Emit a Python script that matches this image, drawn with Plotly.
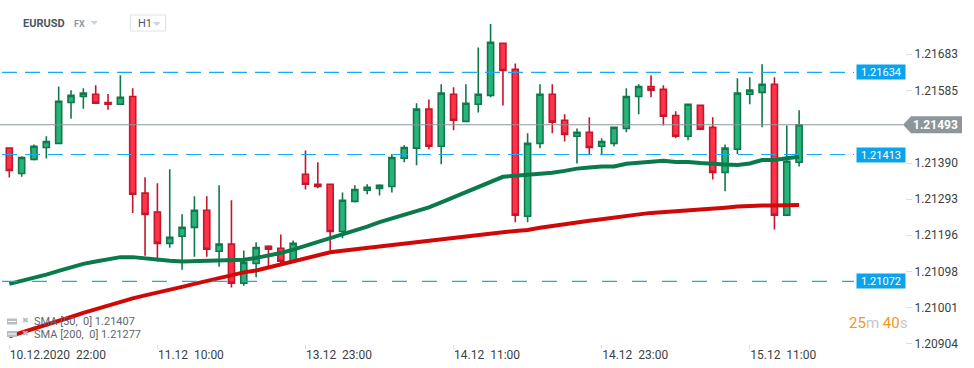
import plotly.graph_objects as go

# ---------------- data ----------------
opens = [1.21430, 1.21362, 1.21400, 1.21432, 1.21443, 1.21553, 1.21569, 1.21575, 1.21553, 1.21548,
         1.21569, 1.21309, 1.21258, 1.21174, 1.21193, 1.21217, 1.21263, 1.21153, 1.21172, 1.21067,
         1.21120, 1.21166, 1.21161, 1.21126, 1.21360, 1.21333, 1.21333, 1.21206, 1.21287, 1.21317,
         1.21322, 1.21327, 1.21403, 1.21430, 1.21535, 1.21435, 1.21575, 1.21502, 1.21548, 1.21572,
         1.21712, 1.21642, 1.21247, 1.21443, 1.21575, 1.21505, 1.21462, 1.21473, 1.21435, 1.21443,
         1.21483, 1.21569, 1.21596, 1.21588, 1.21518, 1.21462, 1.21545, 1.21486, 1.21365, 1.21427,
         1.21575, 1.21580, 1.21602, 1.21250, 1.21392]
highs = [1.21432, 1.21408, 1.21440, 1.21462, 1.21596, 1.21586, 1.21591, 1.21599, 1.21576, 1.21626,
         1.21591, 1.21352, 1.21336, 1.21373, 1.21252, 1.21301, 1.21301, 1.21330, 1.21290, 1.21155,
         1.21177, 1.21169, 1.21198, 1.21182, 1.21424, 1.21392, 1.21334, 1.21311, 1.21330, 1.21333,
         1.21333, 1.21414, 1.21438, 1.21551, 1.21561, 1.21602, 1.21594, 1.21602, 1.21701, 1.21764,
         1.21713, 1.21658, 1.21470, 1.21602, 1.21602, 1.21521, 1.21483, 1.21513, 1.21457, 1.21487,
         1.21591, 1.21602, 1.21626, 1.21599, 1.21529, 1.21549, 1.21546, 1.21513, 1.21440, 1.21618,
         1.21621, 1.21656, 1.21621, 1.21491, 1.21532]
lows = [1.21351, 1.21353, 1.21397, 1.21402, 1.21441, 1.21509, 1.21536, 1.21549, 1.21533, 1.21546,
        1.21256, 1.21141, 1.21125, 1.21162, 1.21103, 1.21138, 1.21138, 1.21111, 1.21055, 1.21060,
        1.21083, 1.21111, 1.21120, 1.21124, 1.21319, 1.21322, 1.21155, 1.21188, 1.21284, 1.21306,
        1.21303, 1.21311, 1.21392, 1.21384, 1.21427, 1.21387, 1.21478, 1.21500, 1.21526, 1.21567,
        1.21545, 1.21231, 1.21231, 1.21430, 1.21470, 1.21448, 1.21389, 1.21414, 1.21411, 1.21435,
        1.21473, 1.21521, 1.21567, 1.21491, 1.21457, 1.21451, 1.21478, 1.21346, 1.21314, 1.21414,
        1.21548, 1.21486, 1.21211, 1.21248, 1.21381]
closes = [1.21370, 1.21405, 1.21435, 1.21448, 1.21556, 1.21572, 1.21578, 1.21551, 1.21548, 1.21567,
          1.21306, 1.21252, 1.21174, 1.21190, 1.21217, 1.21263, 1.21158, 1.21172, 1.21067, 1.21123,
          1.21163, 1.21158, 1.21126, 1.21174, 1.21333, 1.21327, 1.21206, 1.21290, 1.21319, 1.21325,
          1.21330, 1.21405, 1.21432, 1.21535, 1.21435, 1.21578, 1.21505, 1.21551, 1.21575, 1.21715,
          1.21639, 1.21250, 1.21443, 1.21575, 1.21500, 1.21467, 1.21473, 1.21432, 1.21448, 1.21486,
          1.21569, 1.21596, 1.21586, 1.21516, 1.21462, 1.21548, 1.21481, 1.21365, 1.21430, 1.21578,
          1.21586, 1.21602, 1.21250, 1.21395, 1.21493]

sma50 = [1.21065, 1.21073, 1.21080, 1.21090, 1.21100, 1.21109, 1.21119, 1.21125, 1.21131, 1.21137,
         1.21137, 1.21133, 1.21129, 1.21127, 1.21125, 1.21126, 1.21127, 1.21127, 1.21128, 1.21130,
         1.21135, 1.21141, 1.21148, 1.21157, 1.21167, 1.21177, 1.21187, 1.21197, 1.21208, 1.21219,
         1.21231, 1.21241, 1.21250, 1.21261, 1.21271, 1.21284, 1.21298, 1.21311, 1.21324, 1.21339,
         1.21353, 1.21356, 1.21358, 1.21361, 1.21364, 1.21369, 1.21375, 1.21378, 1.21381, 1.21381,
         1.21388, 1.21391, 1.21394, 1.21396, 1.21393, 1.21393, 1.21390, 1.21387, 1.21386, 1.21385,
         1.21389, 1.21398, 1.21398, 1.21403, 1.21407]
sma200 = [1.20924, 1.20934, 1.20945, 1.20955, 1.20966, 1.20976, 1.20987, 1.20997, 1.21007, 1.21018,
          1.21026, 1.21034, 1.21041, 1.21049, 1.21057, 1.21065, 1.21073, 1.21080, 1.21088, 1.21096,
          1.21101, 1.21109, 1.21118, 1.21127, 1.21135, 1.21143, 1.21150, 1.21154, 1.21158, 1.21162,
          1.21165, 1.21169, 1.21172, 1.21177, 1.21182, 1.21185, 1.21188, 1.21192, 1.21197, 1.21200,
          1.21204, 1.21207, 1.21210, 1.21216, 1.21221, 1.21226, 1.21232, 1.21235, 1.21239, 1.21244,
          1.21248, 1.21252, 1.21256, 1.21258, 1.21261, 1.21264, 1.21266, 1.21268, 1.21270, 1.21273,
          1.21275, 1.21276, 1.21276, 1.21277, 1.21277]

candle_index = list(range(len(opens)))

x_tick_positions = [0, 12, 24, 36, 48, 60]
x_tick_labels = ["10.12.2020\u00a0\u00a022:00", "11.12\u00a0\u00a010:00", "13.12\u00a0\u00a023:00",
                 "14.12\u00a0\u00a011:00", "14.12\u00a0\u00a023:00", "15.12\u00a0\u00a011:00"]
y_tick_values = [1.21683, 1.21585, 1.21390, 1.21293, 1.21196, 1.21098, 1.21001, 1.20904]

level_values = [1.21634, 1.21413, 1.21072]
current_price = 1.21493
sma50_label = "SMA [50,\u00a0 0] 1.21407"
sma200_label = "SMA [200,\u00a0 0] 1.21277"
symbol = "EURUSD"
market = "FX"
interval = "H1"
timer_min, timer_sec = "25", "40"

# ---------------- styling ----------------
W, H = 974, 368
ML, MR, MT, MB = 0, 69, 4, 24
PW = W - ML - MR
PH = H - MT - MB
FONT = "Roboto, 'Open Sans', sans-serif"

GREEN_FILL, GREEN_LINE = "#27b47a", "#12784b"
RED_FILL, RED_LINE = "#ff3249", "#c2182c"
LEVEL_BLUE = "#17aaf2"
LABEL_BLUE = "#0aa3ec"
GREY = "#8d969b"


def px_x(px):
    return (px - ML) / PW


def px_y(py):
    return (H - MB - py) / PH


fig = go.Figure()

fig.add_trace(go.Candlestick(
    x=candle_index, open=opens, high=highs, low=lows, close=closes,
    increasing=dict(line=dict(color=GREEN_LINE, width=1.6), fillcolor=GREEN_FILL),
    decreasing=dict(line=dict(color=RED_LINE, width=1.6), fillcolor=RED_FILL),
    whiskerwidth=0, hoverinfo="skip", showlegend=False,
))
fig.add_trace(go.Scatter(x=candle_index, y=sma50, mode="lines",
                         line=dict(color="#0a7a4b", width=4), hoverinfo="skip", showlegend=False))
fig.add_trace(go.Scatter(x=candle_index, y=sma200, mode="lines",
                         line=dict(color="#d00808", width=4), hoverinfo="skip", showlegend=False))

shapes = []
annotations = []

# horizontal level lines with labels
dashes = ["15px,8px", "15px,8px", "15px,15px"]
for lv, dsh in zip(level_values, dashes):
    shapes.append(dict(type="line", xref="paper", yref="y", x0=px_x(2), x1=px_x(854), y0=lv, y1=lv,
                       line=dict(color=LEVEL_BLUE, width=1.2, dash=dsh), layer="above"))
    annotations.append(dict(xref="paper", yref="y", x=px_x(906), y=lv, xanchor="right", yanchor="middle",
                            text=f"{lv:.5f}", showarrow=False, bgcolor=LABEL_BLUE, width=48, height=14,
                            borderpad=0, font=dict(family=FONT, size=11, color="white")))

# current price line + label
shapes.append(dict(type="line", xref="paper", yref="y", x0=0, x1=px_x(903), y0=current_price, y1=current_price,
                   line=dict(color=GREY, width=1.2), layer="above"))
shapes.append(dict(type="path", xref="paper", yref="y", xsizemode="pixel", ysizemode="pixel",
                   xanchor=px_x(903), yanchor=current_price,
                   path="M 0 0 L 8 8.5 L 59 8.5 L 59 -8.5 L 8 -8.5 Z",
                   fillcolor=GREY, line=dict(width=0), layer="above"))
annotations.append(dict(xref="paper", yref="y", x=px_x(936), y=current_price, xanchor="center", yanchor="middle",
                        text=f"<b>{current_price:.5f}</b>", showarrow=False,
                        font=dict(family=FONT, size=12, color="white")))

# header
annotations.append(dict(xref="paper", yref="paper", x=px_x(21), y=px_y(23), xanchor="left", yanchor="middle",
                        text=f"<b>{symbol}</b>", showarrow=False, font=dict(family=FONT, size=11, color="#4b5663")))
annotations.append(dict(xref="paper", yref="paper", x=px_x(72), y=px_y(24), xanchor="left", yanchor="middle",
                        text=f"<b>{market}</b>", showarrow=False, font=dict(family=FONT, size=9, color="#8e9aa5")))
for tx, ty in [(90.5, 21), (153, 22)]:
    shapes.append(dict(type="path", xref="paper", yref="paper", xsizemode="pixel", ysizemode="pixel",
                       xanchor=px_x(tx), yanchor=px_y(ty),
                       path="M 0 0 L 7.5 0 L 3.75 -4 Z", fillcolor="#cfd3d6", line=dict(width=0)))
shapes.append(dict(type="rect", xref="paper", yref="paper", x0=px_x(130.5), x1=px_x(165.5),
                   y0=px_y(31), y1=px_y(15), line=dict(color="#dfe2e5", width=1), fillcolor="rgba(0,0,0,0)"))
annotations.append(dict(xref="paper", yref="paper", x=px_x(135.5), y=px_y(23.5), xanchor="left", yanchor="middle",
                        text=interval, showarrow=False, font=dict(family=FONT, size=11, color="#4b5663")))

# indicator legend
for row_y, label in [(321.5, sma50_label), (334, sma200_label)]:
    shapes.append(dict(type="rect", xref="paper", yref="paper", x0=px_x(7), x1=px_x(17),
                       y0=px_y(row_y + 3), y1=px_y(row_y - 3), line=dict(width=0), fillcolor="#b9bec2"))
    shapes.append(dict(type="line", xref="paper", yref="paper", x0=px_x(8), x1=px_x(16),
                       y0=px_y(row_y), y1=px_y(row_y), line=dict(color="white", width=1)))
    annotations.append(dict(xref="paper", yref="paper", x=px_x(19.5), y=px_y(row_y - 1), xanchor="left",
                            yanchor="middle", text="\u2716", showarrow=False,
                            font=dict(family="DejaVu Sans", size=8, color="#b5babe")))
    annotations.append(dict(xref="paper", yref="paper", x=px_x(31.5), y=px_y(row_y), xanchor="left",
                            yanchor="middle", text=label, showarrow=False,
                            font=dict(family=FONT, size=11, color="#5f666c")))

# candle timer
annotations.append(dict(xref="paper", yref="paper", x=px_x(846.5), y=px_y(322.5), xanchor="left", yanchor="middle",
                        text=(f"<span style='color:#f7941d'>{timer_min}</span><span style='color:#c3c7ca'>m</span> "
                              f"<span style='color:#f7941d'>{timer_sec}</span><span style='color:#c3c7ca'>s</span>"),
                        showarrow=False, font=dict(family=FONT, size=15)))

# axis range so that the candle spacing matches the reference
x_left = -0.754
x_right = 72.58
y_bottom = 1.209034
y_top = 1.218177

fig.update_layout(
    width=W, height=H,
    margin=dict(l=ML, r=MR, t=MT, b=MB, autoexpand=False),
    paper_bgcolor="white", plot_bgcolor="white",
    font=dict(family=FONT, size=12, color="#333"),
    showlegend=False,
    shapes=shapes, annotations=annotations,
    hovermode=False,
    xaxis=dict(range=[x_left, x_right], rangeslider=dict(visible=False), showgrid=False, zeroline=False,
               showline=False, automargin=False, tickvals=x_tick_positions, ticktext=x_tick_labels,
               ticks="outside", ticklen=4, tickcolor="#dcdcdc", tickwidth=1,
               ticklabelposition="outside right",
               tickfont=dict(family=FONT, size=12, color="#3a3f44")),
    yaxis=dict(range=[y_bottom, y_top], side="right", showgrid=False, zeroline=False, showline=False,
               automargin=False,
               tickvals=y_tick_values, ticktext=[f"{v:.5f}" for v in y_tick_values],
               ticks="outside", ticklen=6, tickcolor="#dcdcdc", tickwidth=1,
               tickfont=dict(family=FONT, size=12, color="#3a3f44")),
)

fig.write_html("out.html", config={"displayModeBar": False},
               post_script="document.body.style.margin='0';document.body.style.overflow='hidden';")
